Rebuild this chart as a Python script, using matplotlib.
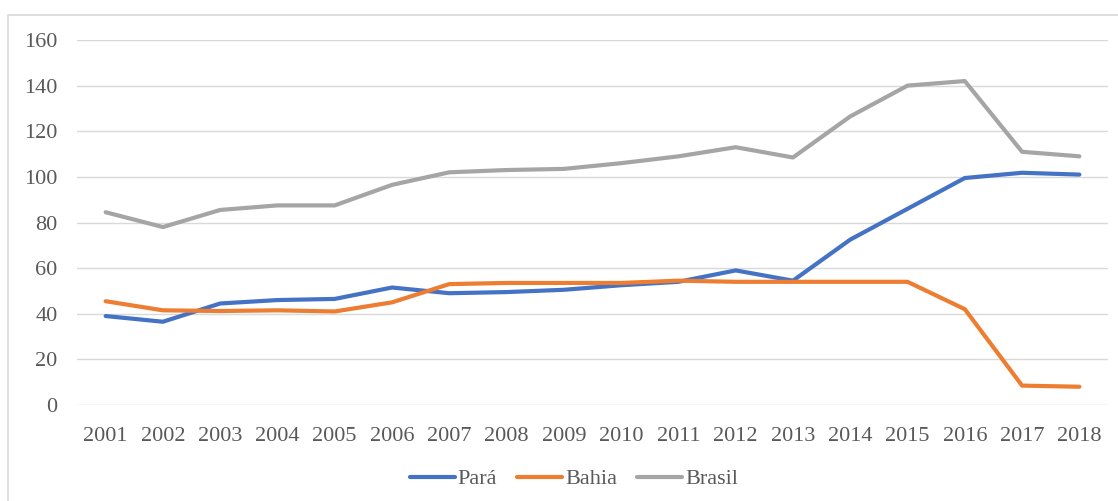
import matplotlib
matplotlib.use("Agg")
import matplotlib.pyplot as plt
from matplotlib.patches import Rectangle

years = [str(y) for y in range(2001, 2019)]
para = [39, 36.5, 44.5, 46, 46.5, 51.5, 49, 49.5, 50.5, 52.5, 54, 59, 54.5, 72.5, 86, 99.5, 101.8, 101]
bahia = [45.5, 41.5, 41.2, 41.5, 41, 45, 53, 53.5, 53.5, 53.5, 54.5, 54, 54, 54, 54, 42, 8.5, 8]
brasil = [84.5, 78, 85.5, 87.5, 87.5, 96.5, 102, 103, 103.5, 106, 109, 113, 108.5, 126.5, 140, 142, 111, 109]
yticks = [0, 20, 40, 60, 80, 100, 120, 140, 160]

plt.rcParams['font.family'] = ['Liberation Serif', 'DejaVu Serif']

W, H = 1118, 501
fig = plt.figure(figsize=(W / 100, H / 100), dpi=100)
fig.patch.set_facecolor('white')

# chart area border
fig.patches.append(Rectangle((8 / W, -0.1), 1.2, 1 - 15 / H + 0.1, transform=fig.transFigure,
                             fill=False, edgecolor='#D9D9D9', linewidth=1.2, zorder=0))

ax = fig.add_axes([77 / W, 1 - 405 / H, (1108 - 77) / W, (405 - 40) / H])
x = list(range(len(years)))
ax.plot(x, para, color='#4472C4', lw=3.0, label='Pará', solid_capstyle='round', solid_joinstyle='round', zorder=3)
ax.plot(x, bahia, color='#ED7D31', lw=3.0, label='Bahia', solid_capstyle='round', solid_joinstyle='round', zorder=3)
ax.plot(x, brasil, color='#A5A5A5', lw=3.0, label='Brasil', solid_capstyle='round', solid_joinstyle='round', zorder=3)

ax.set_xlim(-0.5, len(years) - 0.5)
ax.set_ylim(0, 160)
ax.set_yticks(yticks)
ax.set_xticks(x)
ax.set_xticklabels(years)
for s in ax.spines.values():
    s.set_visible(False)
ax.grid(axis='y', color='#D9D9D9', lw=1.0, zorder=0)
ax.tick_params(axis='both', length=0, labelsize=16, colors='#595959')
ax.tick_params(axis='x', pad=16)
ax.tick_params(axis='y', pad=14)
ax.set_facecolor('none')

leg = fig.legend(loc='center', bbox_to_anchor=(574 / W, 1 - 479 / H), ncol=3, frameon=False,
                 fontsize=16, handlelength=2.0, handletextpad=0.15, columnspacing=0.9)
for t in leg.get_texts():
    t.set_color('#595959')

fig.savefig('out.png', dpi=100, facecolor='white')
